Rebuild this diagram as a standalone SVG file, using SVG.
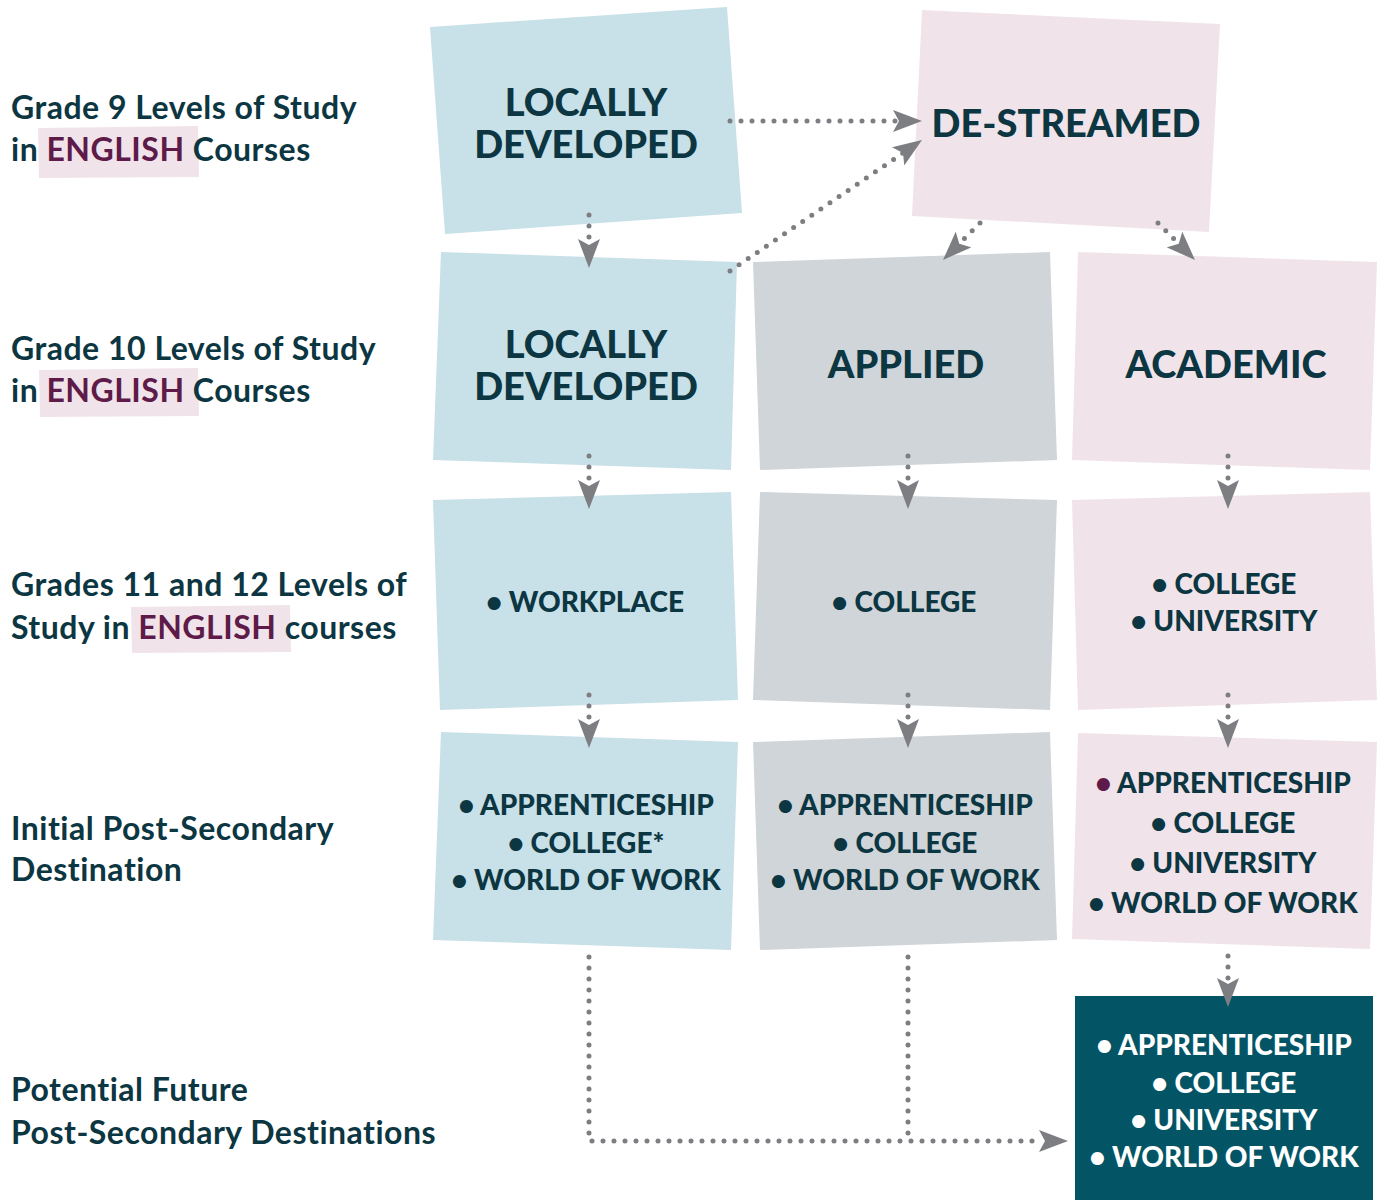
<svg xmlns="http://www.w3.org/2000/svg" width="1380" height="1200" viewBox="0 0 1380 1200">
<defs>
<marker id="ah" markerUnits="userSpaceOnUse" markerWidth="30" markerHeight="22" refX="29" refY="11" orient="auto">
<path d="M0,0 L29,11 L0,22 L6,11 Z" fill="#7d7e82"/>
</marker>
</defs>
<style>
.lbl{font-family:Lato,"Open Sans",sans-serif;font-weight:700;font-size:32px;fill:#0c3641;letter-spacing:0.5px}
.eng{fill:#5e1a48}
.hl{fill:#f0e4ea}
.big{font-family:Lato,"Open Sans",sans-serif;font-weight:900;font-size:38px;fill:#0c3641;text-anchor:middle}
.sm{font-family:Lato,"Open Sans",sans-serif;font-weight:900;font-size:28px;fill:#0c3641;text-anchor:middle}
.wt{fill:#ffffff}
.blue{fill:#c8e0e8}
.pink{fill:#f0e4ea}
.gray{fill:#d0d5d9}
.dark{fill:#035566}
.con{fill:none;stroke:#7d7e82;stroke-width:5;stroke-linecap:round;stroke-dasharray:0 11}
</style>
<rect width="1380" height="1200" fill="#ffffff"/>
<g id="labels">
<polygon class="hl" points="38,128 198,126 199,177 39,178"/>
<text class="lbl" x="11" y="119">Grade 9 Levels of Study</text>
<text class="lbl" x="11" y="161">in <tspan class="eng">ENGLISH</tspan> Courses</text>
<polygon class="hl" points="39,370 198,368 199,416 40,417"/>
<text class="lbl" x="11" y="360">Grade 10 Levels of Study</text>
<text class="lbl" x="11" y="402">in <tspan class="eng">ENGLISH</tspan> Courses</text>
<polygon class="hl" points="131,607 290,605 291,652 132,653"/>
<text class="lbl" x="11" y="596">Grades 11 and 12 Levels of</text>
<text class="lbl" x="11" y="639">Study in <tspan class="eng">ENGLISH</tspan> courses</text>
<text class="lbl" x="11" y="840">Initial Post-Secondary</text>
<text class="lbl" x="11" y="881">Destination</text>
<text class="lbl" x="11" y="1101">Potential Future</text>
<text class="lbl" x="11" y="1144">Post-Secondary Destinations</text>
</g>
<g id="ld9">
<polygon class="blue" points="430,27 727,7 742,213 445,234"/>
<text class="big" x="586" y="116">LOCALLY</text>
<text class="big" x="586" y="158">DEVELOPED</text>
</g>
<g id="destreamed">
<polygon class="pink" points="922,10 1220,24 1209,232 912,216"/>
<text class="big" x="1066" y="137">DE-STREAMED</text>
</g>
<g id="ld10">
<polygon class="blue" points="441,252 737,262 731,470 433,460"/>
<text class="big" x="586" y="358">LOCALLY</text>
<text class="big" x="586" y="400">DEVELOPED</text>
</g>
<g id="applied10">
<polygon class="gray" points="753,262 1050,252 1057,460 760,470"/>
<text class="big" x="906" y="378">APPLIED</text>
</g>
<g id="academic10">
<polygon class="pink" points="1078,252 1377,262 1370,470 1072,460"/>
<text class="big" x="1226" y="378">ACADEMIC</text>
</g>
<g id="workplace">
<polygon class="blue" points="433,500 731,492 738,700 440,710"/>
<text class="sm" x="585" y="612">• WORKPLACE</text>
</g>
<g id="college11">
<polygon class="gray" points="760,492 1057,500 1050,710 753,700"/>
<text class="sm" x="904" y="612">• COLLEGE</text>
</g>
<g id="acad11">
<polygon class="pink" points="1072,500 1370,492 1377,700 1078,710"/>
<text class="sm" x="1224" y="594">• COLLEGE</text>
<text class="sm" x="1224" y="631">• UNIVERSITY</text>
</g>
<g id="ld-dest">
<polygon class="blue" points="441,732 738,742 731,950 433,940"/>
<text class="sm" x="586" y="815">• APPRENTICESHIP</text>
<text class="sm" x="586" y="853">• COLLEGE*</text>
<text class="sm" x="586" y="890">• WORLD OF WORK</text>
</g>
<g id="applied-dest">
<polygon class="gray" points="753,742 1050,732 1057,940 760,950"/>
<text class="sm" x="905" y="815">• APPRENTICESHIP</text>
<text class="sm" x="905" y="853">• COLLEGE</text>
<text class="sm" x="905" y="890">• WORLD OF WORK</text>
</g>
<g id="acad-dest">
<polygon class="pink" points="1078,733 1377,742 1370,949 1072,939"/>
<text class="sm" x="1223" y="793"><tspan fill="#5e1a48">•</tspan> APPRENTICESHIP</text>
<text class="sm" x="1223" y="833">• COLLEGE</text>
<text class="sm" x="1223" y="873">• UNIVERSITY</text>
<text class="sm" x="1223" y="913">• WORLD OF WORK</text>
</g>
<g id="future">
<rect class="dark" x="1075" y="996" width="298" height="204"/>
<text class="sm wt" x="1224" y="1055">• APPRENTICESHIP</text>
<text class="sm wt" x="1224" y="1093">• COLLEGE</text>
<text class="sm wt" x="1224" y="1130">• UNIVERSITY</text>
<text class="sm wt" x="1224" y="1167">• WORLD OF WORK</text>
</g>
<g id="connectors">
<path class="con" d="M730,121 L900,121" />
<path d="M900,121 L922,121" stroke="none" fill="none" marker-end="url(#ah)"/>
<line class="con" x1="730" y1="271" x2="903" y2="153"/>
<path d="M903,153 L922,140" fill="none" marker-end="url(#ah)"/>
<line class="con" x1="589" y1="215" x2="589" y2="240"/>
<path d="M589,240 L589,268" fill="none" marker-end="url(#ah)"/>
<line class="con" x1="980" y1="223" x2="961" y2="242"/>
<path d="M961,242 L943,260" fill="none" marker-end="url(#ah)"/>
<line class="con" x1="1158" y1="223" x2="1177" y2="242"/>
<path d="M1177,242 L1195,260" fill="none" marker-end="url(#ah)"/>
<line class="con" x1="589" y1="456" x2="589" y2="481"/>
<path d="M589,481 L589,509" fill="none" marker-end="url(#ah)"/>
<line class="con" x1="908" y1="456" x2="908" y2="481"/>
<path d="M908,481 L908,509" fill="none" marker-end="url(#ah)"/>
<line class="con" x1="1228" y1="456" x2="1228" y2="481"/>
<path d="M1228,481 L1228,509" fill="none" marker-end="url(#ah)"/>
<line class="con" x1="589" y1="695" x2="589" y2="720"/>
<path d="M589,720 L589,748" fill="none" marker-end="url(#ah)"/>
<line class="con" x1="908" y1="695" x2="908" y2="720"/>
<path d="M908,720 L908,748" fill="none" marker-end="url(#ah)"/>
<line class="con" x1="1228" y1="695" x2="1228" y2="720"/>
<path d="M1228,720 L1228,748" fill="none" marker-end="url(#ah)"/>
<line class="con" x1="1228" y1="956" x2="1228" y2="979"/>
<path d="M1228,979 L1228,1007" fill="none" marker-end="url(#ah)"/>
<path class="con" d="M589,957 L589,1141 L1040,1141"/>
<line class="con" x1="908" y1="957" x2="908" y2="1135"/>
<path d="M1040,1141 L1068,1141" fill="none" marker-end="url(#ah)"/>
</g>
</svg>
